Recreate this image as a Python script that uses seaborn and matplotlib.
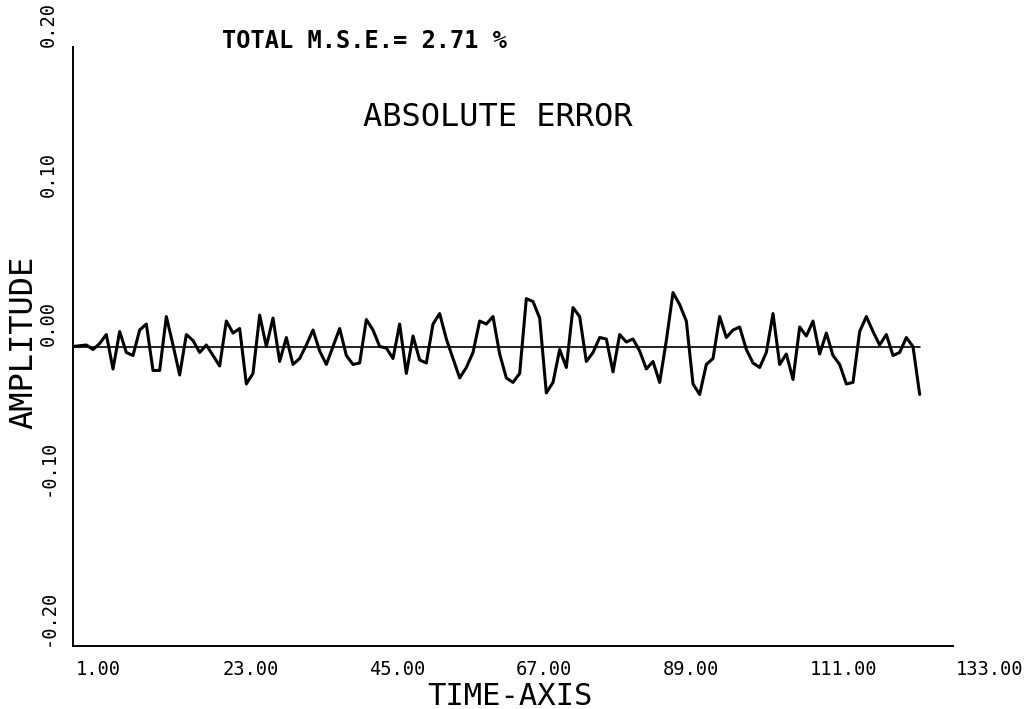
import numpy as np
import pandas as pd
import matplotlib
matplotlib.use("Agg")
import matplotlib.pyplot as plt
import matplotlib.transforms as mtransforms
import seaborn as sns

# Absolute error of the reconstructed signal, one value per time step
time_steps = list(range(1, 129))
abs_error = [
    0.000, 0.0005, 0.001, -0.002, 0.002, 0.008, -0.015, 0.010, -0.004, -0.006,
    0.011, 0.015, -0.016, -0.016, 0.020, 0.001, -0.019, 0.008, 0.004, -0.004,
    0.001, -0.006, -0.013, 0.017, 0.009, 0.012, -0.025, -0.018, 0.021, 0.000,
    0.019, -0.010, 0.006, -0.012, -0.008, 0.001, 0.011, -0.003, -0.012, 0.000,
    0.012, -0.006, -0.012, -0.011, 0.018, 0.011, 0.000, -0.001, -0.008, 0.015,
    -0.018, 0.007, -0.009, -0.011, 0.015, 0.022, 0.005, -0.008, -0.021, -0.014,
    -0.004, 0.017, 0.015, 0.020, -0.005, -0.021, -0.024, -0.018, 0.032, 0.030,
    0.019, -0.031, -0.024, -0.002, -0.014, 0.026, 0.020, -0.010, -0.004, 0.006,
    0.005, -0.017, 0.008, 0.003, 0.005, -0.003, -0.015, -0.010, -0.024, 0.004,
    0.036, 0.028, 0.017, -0.025, -0.032, -0.012, -0.008, 0.020, 0.006, 0.011,
    0.013, -0.002, -0.011, -0.014, -0.004, 0.022, -0.012, -0.005, -0.022, 0.013,
    0.007, 0.017, -0.005, 0.009, -0.006, -0.012, -0.025, -0.024, 0.010, 0.020,
    0.010, 0.001, 0.008, -0.006, -0.004, 0.006, 0.000, -0.032,
]

x_ticks = [1, 23, 45, 67, 89, 111, 133]
x_tick_labels = ["1.00", "23.00", "45.00", "67.00", "89.00", "111.00", "133.00"]
y_ticks = [-0.20, -0.10, 0.00, 0.10, 0.20]
y_tick_labels = ["-0.20", "-0.10", "0.00", "0.10", "0.20"]

mse_text = "TOTAL M.S.E.= 2.71 %"
plot_title = "ABSOLUTE ERROR"
x_label = "TIME-AXIS"
y_label = "AMPLITUDE"

sns.set_style("white")
plt.rcParams["font.family"] = ["DejaVu Sans Mono", "DejaVu Sans"]
plt.rcParams["text.color"] = "black"
plt.rcParams["axes.labelcolor"] = "black"
plt.rcParams["xtick.color"] = "black"
plt.rcParams["ytick.color"] = "black"

W, H = 1030, 709
fig = plt.figure(figsize=(W / 100, H / 100), dpi=100)
left, right, top, bottom = 73, 953, 47, 646
ax = fig.add_axes([left / W, (H - bottom) / H, (right - left) / W, (bottom - top) / H])

df = pd.DataFrame({"t": time_steps, "err": abs_error})

# zero reference line across the sampled span
ax.plot([time_steps[0], time_steps[-1]], [0, 0], color="black", lw=1.2)
sns.lineplot(data=df, x="t", y="err", ax=ax, color="black", lw=2.2)

ax.set_xlim(1, 133)
ax.set_ylim(-0.20, 0.20)

for s in ["top", "right"]:
    ax.spines[s].set_visible(False)
for s in ["left", "bottom"]:
    ax.spines[s].set_linewidth(1.4)
    ax.spines[s].set_color("black")

ax.set_xticks(x_ticks, x_tick_labels)
ax.set_yticks(y_ticks, y_tick_labels)
ax.tick_params(axis="x", direction="in", length=6, width=1.2, pad=10, labelsize=13.5)
ax.tick_params(axis="y", direction="out", length=5, width=1.2, pad=13, labelsize=13.5)

# x labels start just right of their tick
shift = mtransforms.ScaledTranslation(3 / 100, 0, fig.dpi_scale_trans)
for lbl in ax.get_xticklabels():
    lbl.set_ha("left")
    lbl.set_transform(lbl.get_transform() + shift)
for lbl in ax.get_yticklabels():
    lbl.set_rotation(90)
    lbl.set_rotation_mode("anchor")
    lbl.set_ha("left")
    lbl.set_va("center")

ax.set_xlabel(x_label, fontsize=22)
ax.set_ylabel(y_label, fontsize=23)
ax.xaxis.set_label_coords((510 - left) / (right - left), -(705 - bottom) / (bottom - top))
ax.yaxis.set_label_coords(-(left - 24) / (right - left), (bottom - 342) / (bottom - top))
ax.xaxis.label.set_va("baseline")
ax.yaxis.label.set_va("center")

fig.text(222 / W, 1 - 48 / H, mse_text, fontsize=17, fontweight="bold",
         ha="left", va="baseline")
fig.text(363 / W, 1 - 126 / H, plot_title, fontsize=23, ha="left", va="baseline")

fig.savefig("out.png", dpi=100)
